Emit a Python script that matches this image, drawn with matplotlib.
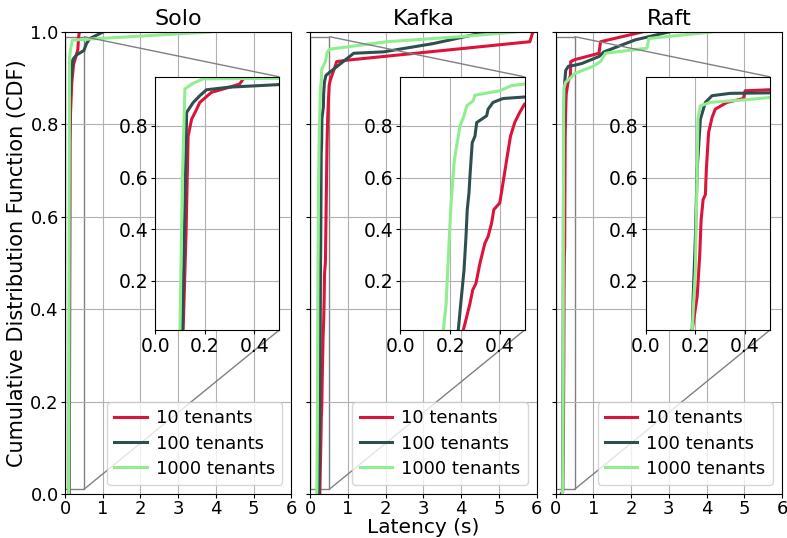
import matplotlib
matplotlib.use("Agg")
import matplotlib.pyplot as plt
from mpl_toolkits.axes_grid1.inset_locator import mark_inset

# --- Data: latency (s) vs CDF ---
systems = ["Solo", "Kafka", "Raft"]
tenant_labels = ["10 tenants", "100 tenants", "1000 tenants"]
colors = ["crimson", "darkslategray", "lightgreen"]

solo_10_lat = [0.11, 0.113, 0.125, 0.133, 0.147, 0.165, 0.18, 0.227, 0.30, 0.34, 0.36, 0.37, 0.38]
solo_10_cdf = [0.0, 0.01, 0.4, 0.76, 0.826, 0.86, 0.891, 0.93, 0.95, 0.962, 0.988, 0.995, 1.0]
solo_100_lat = [0.105, 0.11, 0.12, 0.127, 0.153, 0.18, 0.207, 0.3, 0.5, 0.57, 0.66, 1.01]
solo_100_cdf = [0.0, 0.01, 0.49, 0.852, 0.89, 0.917, 0.94, 0.95, 0.96, 0.975, 0.986, 1.0]
solo_1000_lat = [0.095, 0.1, 0.11, 0.12, 0.147, 0.193, 0.3, 3.85]
solo_1000_cdf = [0.0, 0.01, 0.6, 0.943, 0.962, 0.982, 0.983, 1.0]

kafka_10_lat = [0.25, 0.253, 0.26, 0.28, 0.291, 0.304, 0.32, 0.34, 0.353, 0.367, 0.376, 0.40,
                0.413, 0.43, 0.443, 0.46, 0.48, 0.5, 0.53, 0.70, 0.97, 5.82, 5.9]
kafka_10_cdf = [0.0, 0.01, 0.035, 0.113, 0.165, 0.19, 0.268, 0.346, 0.372, 0.424, 0.476, 0.502,
                0.58, 0.683, 0.76, 0.813, 0.852, 0.885, 0.896, 0.936, 0.939, 0.979, 1.0]
kafka_100_lat = [0.23, 0.233, 0.243, 0.256, 0.264, 0.269, 0.276, 0.28, 0.289, 0.30, 0.307, 0.347,
                 0.353, 0.373, 0.413, 0.5, 1.15, 1.94, 3.26, 4.67]
kafka_100_cdf = [0.0, 0.01, 0.113, 0.242, 0.372, 0.476, 0.541, 0.606, 0.735, 0.76, 0.813, 0.839,
                 0.865, 0.891, 0.906, 0.912, 0.954, 0.957, 0.975, 1.0]
kafka_1000_lat = [0.17, 0.173, 0.184, 0.197, 0.204, 0.216, 0.224, 0.24, 0.256, 0.267, 0.293, 0.30,
                  0.40, 0.447, 0.5, 0.53, 2.03, 4.0, 5.45]
kafka_1000_cdf = [0.0, 0.01, 0.113, 0.372, 0.502, 0.657, 0.71, 0.80, 0.839, 0.878, 0.897, 0.919,
                  0.936, 0.956, 0.962, 0.963, 0.979, 0.99, 1.0]

raft_10_lat = [0.18, 0.187, 0.207, 0.217, 0.223, 0.231, 0.24, 0.244, 0.253, 0.267, 0.28, 0.327,
               0.393, 0.4, 0.5, 1.15, 1.19, 2.29]
raft_10_cdf = [0.0, 0.01, 0.139, 0.294, 0.437, 0.515, 0.534, 0.632, 0.774, 0.833, 0.865, 0.891,
               0.906, 0.936, 0.94, 0.954, 0.979, 1.0]
raft_100_lat = [0.15, 0.18, 0.187, 0.191, 0.2, 0.207, 0.22, 0.24, 0.267, 0.34, 0.5, 0.70, 1.15, 1.28, 2.11, 3.0]
raft_100_cdf = [0.0, 0.005, 0.01, 0.139, 0.372, 0.632, 0.826, 0.891, 0.917, 0.926, 0.928, 0.932,
                0.947, 0.957, 0.983, 1.0]
raft_1000_lat = [0.18, 0.187, 0.2, 0.207, 0.21, 0.22, 0.26, 0.34, 0.4, 0.5, 0.97, 1.19, 1.32, 2.42, 2.47, 4.14]
raft_1000_cdf = [0.0, 0.01, 0.242, 0.632, 0.826, 0.878, 0.891, 0.897, 0.901, 0.91, 0.925, 0.936,
                 0.954, 0.965, 0.986, 1.0]

series = {
    "Solo": [(solo_10_lat, solo_10_cdf), (solo_100_lat, solo_100_cdf), (solo_1000_lat, solo_1000_cdf)],
    "Kafka": [(kafka_10_lat, kafka_10_cdf), (kafka_100_lat, kafka_100_cdf), (kafka_1000_lat, kafka_1000_cdf)],
    "Raft": [(raft_10_lat, raft_10_cdf), (raft_100_lat, raft_100_cdf), (raft_1000_lat, raft_1000_cdf)],
}

fig, axes = plt.subplots(1, 3, figsize=(7.87, 5.38), dpi=100, sharey=True)
fig.subplots_adjust(left=0.0826, right=0.9936, top=0.9405, bottom=0.0818, wspace=0.084)

for ax, name in zip(axes, systems):
    for (lat, cdf), color, label in zip(series[name], colors, tenant_labels):
        ax.plot(lat, cdf, color=color, lw=2.2, label=label)
    ax.set_xlim(0, 6)
    ax.set_ylim(0, 1)
    ax.set_xticks(range(7))
    ax.grid(True)
    ax.set_title(name, fontsize=16, pad=5)
    ax.tick_params(labelsize=13, length=3, pad=1.5)
    ax.legend(loc="lower right", fontsize=13, handlelength=1.8,
              handletextpad=0.5, labelspacing=0.4)

    axins = ax.inset_axes([0.398, 0.355, 0.549, 0.548])
    for (lat, cdf), color in zip(series[name], colors):
        axins.plot(lat, cdf, color=color, lw=2.2)
    axins.set_xlim(0, 0.5)
    axins.set_ylim(0.01, 0.99)
    axins.set_xticks([0.0, 0.2, 0.4])
    axins.set_yticks([0.2, 0.4, 0.6, 0.8])
    axins.tick_params(labelsize=13.5, length=3, pad=2)
    axins.grid(True)
    mark_inset(ax, axins, loc1=1, loc2=4, fc="none", ec="0.5")

axes[0].set_ylabel("Cumulative Distribution Function (CDF)", fontsize=15, labelpad=2)
axes[1].set_xlabel("Latency (s)", fontsize=14.5, labelpad=0)

fig.savefig("out.png", dpi=100)
